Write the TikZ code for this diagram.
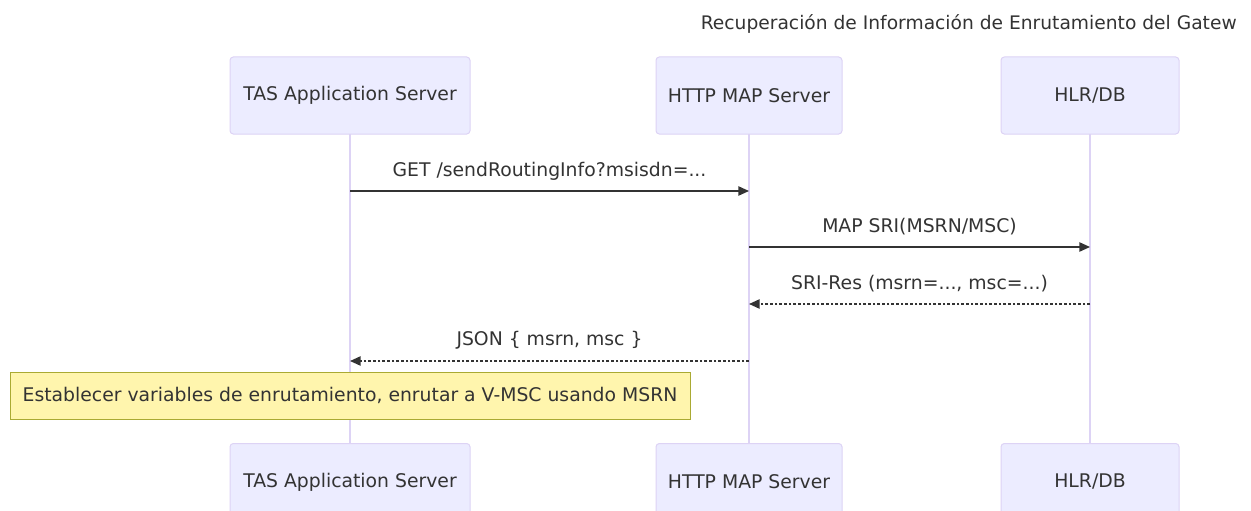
\documentclass[tikz,border=0pt]{standalone}
\usepackage{fontspec}
\setmainfont{DejaVu Sans}
\usetikzlibrary{arrows.meta}
\definecolor{actfill}{HTML}{ECECFF}
\definecolor{actdraw}{HTML}{DDD3F5}
\definecolor{txt}{HTML}{333333}
\definecolor{notefill}{HTML}{FFF5AD}
\definecolor{notedraw}{HTML}{AAAA33}
\begin{document}
\begin{tikzpicture}[x=0.75pt,y=-0.75pt,
  actor/.style={draw=actdraw,fill=actfill,rounded corners=2.5pt,line width=0.75pt,text=txt,font=\fontsize{14.1}{16}\selectfont},
  alabel/.style={text=txt,font=\fontsize{14.1}{16}\selectfont},
  life/.style={draw=actdraw,line width=1pt},
  msg/.style={draw=txt,line width=1.1pt,-{Triangle[length=8pt,width=7pt]}},
  rep/.style={msg,dash pattern=on 2pt off 1.5pt},
  lbl/.style={text=txt,font=\fontsize{14.1}{16}\selectfont,inner sep=0pt}]
\useasboundingbox (0,0) rectangle (1251,510);
\fill[white] (0,0) rectangle (1251,510);
\node[text=txt,font=\fontsize{14}{16}\selectfont,anchor=east,inner sep=0pt] (title) at (1237,24) {Recuperación de Información de Enrutamiento del Gatew};
% lifelines
\coordinate (t1) at (350,134); \coordinate (t2) at (350,443);
\coordinate (h1) at (749,134); \coordinate (h2) at (749,443);
\coordinate (d1) at (1090,134); \coordinate (d2) at (1090,443);
\draw[life] (t1) -- (t2);
\draw[life] (h1) -- (h2);
\draw[life] (d1) -- (d2);
% actors
\node[actor,minimum width=240*0.75pt,minimum height=77*0.75pt] (tas) at (350,95.5) {TAS Application Server};
\node[actor,minimum width=186*0.75pt,minimum height=77*0.75pt] (http) at (749,95.5) {HTTP MAP Server};
\node[actor,minimum width=178*0.75pt,minimum height=77*0.75pt] (hlr) at (1090,95.5) {HLR/DB};
\node[actor,minimum width=240*0.75pt,minimum height=77*0.75pt,anchor=north] (tasb) at (350,443) {};
\node[actor,minimum width=186*0.75pt,minimum height=77*0.75pt,anchor=north] (httpb) at (749,443) {};
\node[actor,minimum width=178*0.75pt,minimum height=77*0.75pt,anchor=north] (hlrb) at (1090,443) {};
\node[alabel] (tasbl) at (350,482) {TAS Application Server};
\node[alabel] (httpbl) at (749,482) {HTTP MAP Server};
\node[alabel] (hlrbl) at (1090,482) {HLR/DB};
% messages
\coordinate (m1a) at (350,191); \coordinate (m1b) at (749,191);
\draw[msg] (m1a) -- (m1b);
\node[lbl] (l1) at (549.5,171) {GET /sendRoutingInfo?msisdn=...};
\coordinate (m2a) at (749,247); \coordinate (m2b) at (1090,247);
\draw[msg] (m2a) -- (m2b);
\node[lbl] (l2) at (919.5,227) {MAP SRI(MSRN/MSC)};
\coordinate (m3a) at (1090,304); \coordinate (m3b) at (749,304);
\draw[rep] (m3a) -- (m3b);
\node[lbl] (l3) at (919.5,284) {SRI-Res (msrn=..., msc=...)};
\coordinate (m4a) at (749,361); \coordinate (m4b) at (350,361);
\draw[rep] (m4a) -- (m4b);
\node[lbl] (l4) at (549.5,340) {JSON \{ msrn, msc \}};
% note
\node[draw=notedraw,fill=notefill,line width=0.75pt,minimum width=680*0.75pt,minimum height=47*0.75pt,text=txt,font=\fontsize{14.1}{16}\selectfont] (note) at (350,395.5) {Establecer variables de enrutamiento, enrutar a V-MSC usando MSRN};
\end{tikzpicture}
\end{document}
